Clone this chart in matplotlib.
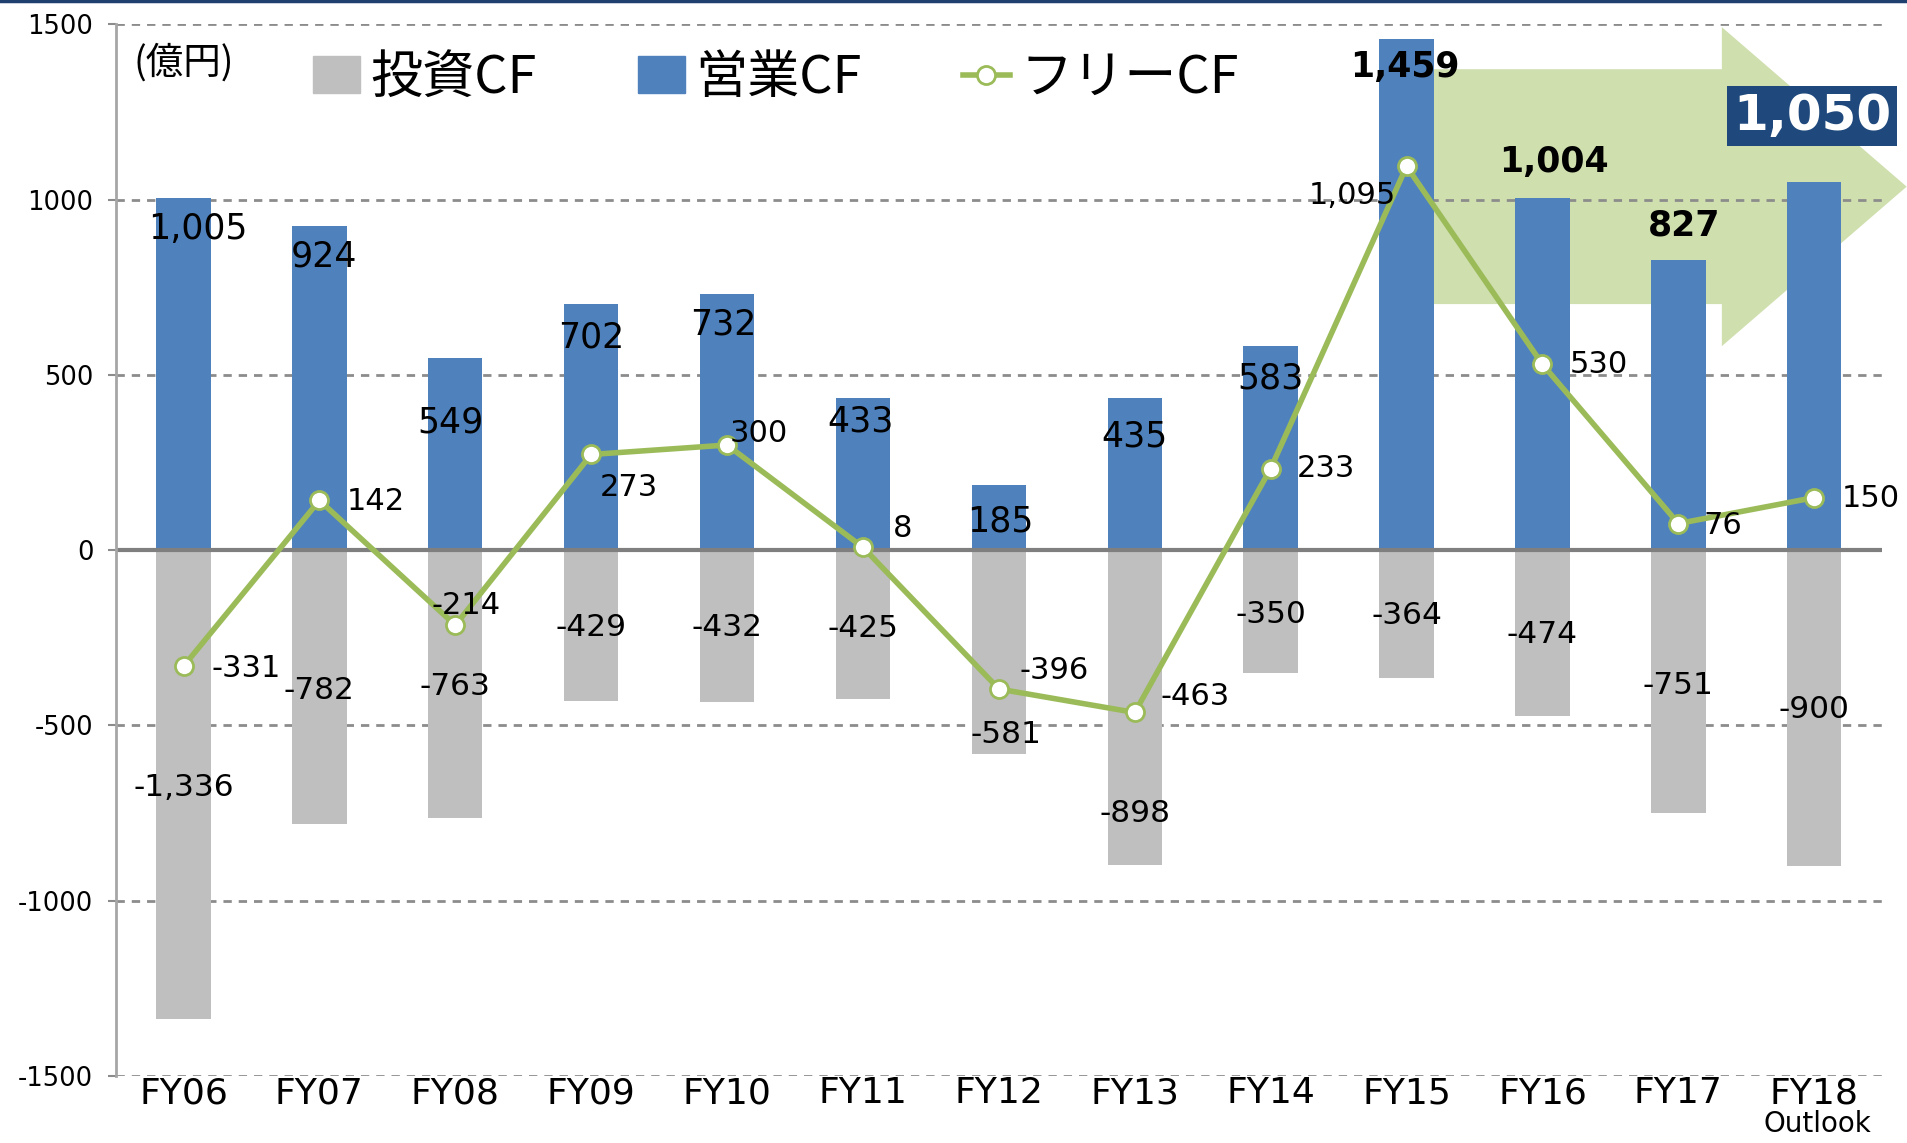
import numpy as np
import matplotlib.pyplot as plt
from matplotlib.patches import Polygon, Patch
from matplotlib.lines import Line2D

plt.rcParams['font.family'] = ['DejaVu Sans', 'Noto Sans CJK JP']

# data (億円)
years = ['FY06', 'FY07', 'FY08', 'FY09', 'FY10', 'FY11', 'FY12',
         'FY13', 'FY14', 'FY15', 'FY16', 'FY17', 'FY18']
op_cf = [1005, 924, 549, 702, 732, 433, 185, 435, 583, 1459, 1004, 827, 1050]
inv_cf = [-1336, -782, -763, -429, -432, -425, -581, -898, -350, -364, -474, -751, -900]
free_cf = [-331, 142, -214, 273, 300, 8, -396, -463, 233, 1095, 530, 76, 150]

# label offsets in pixels (hand placed like the original)
op_off = [(14, -31), (5, -30), (-5, -65), (0, -33), (-4, -31), (-2, -23), (1, -36),
          (0, -39), (0, -33), (-2, -28), (11, 36), (6, 35), (-2, 66)]
inv_off = [(0, 231), (0, 134), (0, 131), (0, 73), (0, 74), (0, 71), (7, 19),
           (0, 51), (0, 58), (0, 62), (0, 82), (0, 128), (0, 156)]
free_off = [(63, -2), (56, -1), (11, 20), (38, -33), (32, 12), (40, 19), (55, 19),
            (60, 16), (55, 0), (-54, -29), (56, 0), (45, -2), (56, -1)]

BLUE = '#4f81bd'
GRAY = '#bfbfbf'
GREEN = '#9bbb59'
NAVY = '#1f497d'

fig = plt.figure(figsize=(19.07, 11.43), dpi=100)
ax = fig.add_axes([0.0606, 0.0586, 0.9264, 0.9201])

x = np.arange(len(years))
ax.set_xlim(-0.5, 12.5)
ax.set_ylim(-1500, 1500)

# big green arrow behind the last bars
arrow = Polygon([(9.0, 702), (11.32, 702), (11.32, 582), (12.68, 1037),
                 (11.32, 1492), (11.32, 1372), (9.0, 1372)],
                closed=True, facecolor='#cfdfae', edgecolor='none',
                zorder=0.5, clip_on=False)
ax.add_patch(arrow)

ax.set_yticks([1500, 1000, 500, 0, -500, -1000, -1500])
ax.set_yticklabels(['1500', '1000', '500', '0', '-500', '-1000', '-1500'])
for v in [1500, 1000, 500, -500, -1000, -1500]:
    ax.axhline(v, color='#8c8c8c', lw=2, ls=(0, (3, 2.5)), zorder=1)

ax.bar(x, inv_cf, width=0.4, color=GRAY, zorder=2)
ax.bar(x, op_cf, width=0.4, color=BLUE, zorder=2)
ax.axhline(0, color='#7f7f7f', lw=3, zorder=2.5)

ax.plot(x, free_cf, color=GREEN, lw=4, marker='o', ms=13,
        mfc='white', mec=GREEN, mew=2, zorder=3)

for i in range(len(years)):
    if i == 12:
        ax.annotate(f'{op_cf[i]:,}', (x[i], op_cf[i]), xytext=op_off[i],
                    textcoords='offset pixels', ha='center', va='center',
                    fontsize=36, fontweight='bold', color='white', zorder=5,
                    bbox=dict(boxstyle='square,pad=0.12', fc=NAVY, ec='none'))
    elif i >= 9:
        ax.annotate(f'{op_cf[i]:,}', (x[i], op_cf[i]), xytext=op_off[i],
                    textcoords='offset pixels', ha='center', va='center',
                    fontsize=25, fontweight='bold', zorder=5)
    else:
        ax.annotate(f'{op_cf[i]:,}', (x[i], op_cf[i]), xytext=op_off[i],
                    textcoords='offset pixels', ha='center', va='center',
                    fontsize=25, zorder=5)
    ax.annotate(f'{inv_cf[i]:,}', (x[i], inv_cf[i]), xytext=inv_off[i],
                textcoords='offset pixels', ha='center', va='center',
                fontsize=22.5, zorder=5)
    ax.annotate(f'{free_cf[i]:,}', (x[i], free_cf[i]), xytext=free_off[i],
                textcoords='offset pixels', ha='center', va='center',
                fontsize=22, zorder=5)

ax.set_xticks(x)
ax.set_xticklabels(years, fontsize=26)
ax.tick_params(axis='x', length=0, pad=0)
ax.tick_params(axis='y', length=6, color='#8c8c8c', width=1.5, pad=10, labelsize=18.5)
ax.annotate('Outlook', (12, 0), xycoords=('data', 'axes fraction'),
            xytext=(3, -48), textcoords='offset pixels', ha='center', va='center',
            fontsize=20, annotation_clip=False)

for s in ['top', 'right', 'bottom']:
    ax.spines[s].set_visible(False)
ax.spines['left'].set_color('#a6a6a6')
ax.spines['left'].set_linewidth(2)

# legend and unit
ax.text(0.0965, 0.945, '(億円)', transform=fig.transFigure, ha='center', va='center',
        fontsize=27, family=['Noto Sans CJK JP', 'DejaVu Sans'])
handles = [Patch(color=GRAY, label='投資CF'),
           Patch(color=BLUE, label='営業CF'),
           Line2D([], [], color=GREEN, lw=4, marker='o', ms=13, mfc='white',
                  mec=GREEN, mew=2, label='フリーCF')]
fig.legend(handles=handles, loc='center left', bbox_to_anchor=(0.164, 0.9316),
           ncol=3, frameon=False, borderpad=0, borderaxespad=0,
           handlelength=0.9, handleheight=0.72, handletextpad=0.2,
           columnspacing=1.95, prop={'family': ['Noto Sans CJK JP', 'DejaVu Sans'], 'size': 37.5})

fig.add_artist(Line2D([0, 1], [0.9987, 0.9987], transform=fig.transFigure,
                      color='#1f3f6f', lw=2.5))

fig.savefig('out.png', dpi=100)
